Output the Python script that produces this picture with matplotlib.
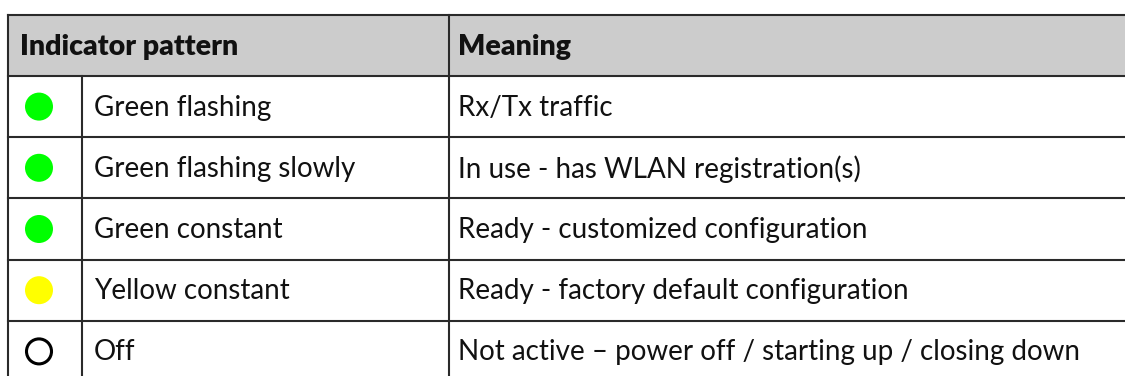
import matplotlib.pyplot as plt
from matplotlib.patches import Rectangle, Circle

headers = ["Indicator pattern", "Meaning"]
patterns = ["Green flashing", "Green flashing slowly", "Green constant",
            "Yellow constant", "Off"]
meanings = ["Rx/Tx traffic", "In use - has WLAN registration(s)",
            "Ready - customized configuration",
            "Ready - factory default configuration",
            "Not active \u2013 power off / starting up / closing down"]
led_colors = ["#00ff00", "#00ff00", "#00ff00", "#ffff00", "none"]

W, H = 1125, 376
fig = plt.figure(figsize=(W / 100, H / 100), dpi=100)
ax = fig.add_axes([0, 0, 1, 1])
ax.set_xlim(0, W)
ax.set_ylim(H, 0)
ax.axis("off")

plt.rcParams['font.family'] = ['Lato', 'DejaVu Sans']

x_left, x_icon, x_mean, x_right = 8, 82, 449, 1140
y_top, y_head = 15, 76
row_h = 61.2
lc = "#2a2a2a"
lw = 1.5
fs = 20
fs_h = 20.5

# header background
ax.add_patch(Rectangle((x_left, y_top), x_right - x_left, y_head - y_top,
                       facecolor="#cccccc", edgecolor="none"))
ax.text(20, (y_top + y_head) / 2 + 1, headers[0], fontsize=fs_h, fontweight="heavy",
        va="center", ha="left", color="#111111")
ax.text(x_mean + 9, (y_top + y_head) / 2 + 1, headers[1], fontsize=fs_h, fontweight="heavy",
        va="center", ha="left", color="#111111")

n = len(patterns)
y_bottom = y_head + n * row_h + 10
ax.plot([x_left, x_right], [y_top, y_top], color=lc, lw=lw)
ax.plot([x_left, x_right], [y_head, y_head], color=lc, lw=lw)
for i in range(1, n):
    y = y_head + i * row_h
    ax.plot([x_left, x_right], [y, y], color=lc, lw=lw)
ax.plot([x_left, x_left], [y_top, y_bottom], color=lc, lw=lw)
ax.plot([x_mean, x_mean], [y_top, y_bottom], color=lc, lw=lw)
ax.plot([x_icon, x_icon], [y_head, y_bottom], color=lc, lw=lw)

for i, (p, m, c) in enumerate(zip(patterns, meanings, led_colors)):
    yc = y_head + (i + 0.5) * row_h
    if c == "none":
        ax.add_patch(Circle((39, yc), 12.5, facecolor="white", edgecolor="black", lw=2.2))
    else:
        ax.add_patch(Circle((39, yc), 14, facecolor=c, edgecolor="none"))
    ax.text(94, yc + 1, p, fontsize=fs, va="center", ha="left", color="#111111")
    ax.text(x_mean + 9, yc + 1, m, fontsize=fs, va="center", ha="left", color="#111111")

fig.savefig("out.png", dpi=100)
